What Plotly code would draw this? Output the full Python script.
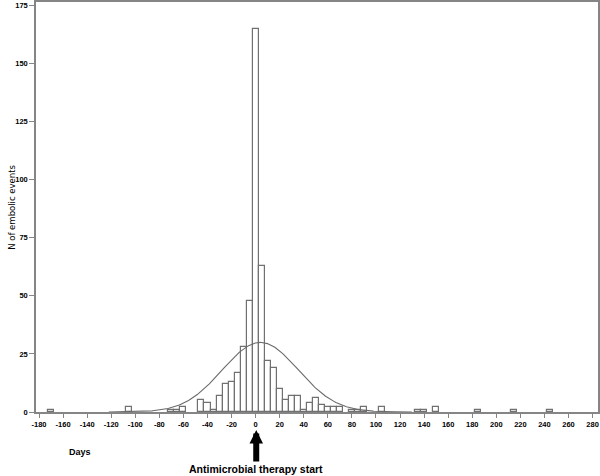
import numpy as np
import plotly.graph_objects as go

# Histogram bins (bin centre in days, width 5 days) and counts of embolic events
bin_centers = [-170, -105, -70, -65, -60, -45, -40, -35, -30, -25, -20, -15, -10, -5,
               0, 5, 10, 15, 20, 25, 30, 35, 40, 45, 50, 55, 60, 65, 70, 80, 85, 90,
               105, 135, 140, 150, 185, 215, 245]
counts = [1, 2, 1, 1, 2, 5, 4, 1, 7, 12, 13, 17, 28, 48,
          165, 63, 22, 19, 10, 5, 7, 7, 1, 4, 6, 3, 2, 2, 2, 1, 1, 2,
          2, 1, 1, 2, 1, 1, 1]
bin_width = 5

x_ticks = list(range(-180, 281, 20))
y_ticks = [0, 25, 50, 75, 100, 125, 150, 175]

# Fitted normal curve from the data's mean and SD
values = np.repeat(bin_centers, counts)
n = len(values)
mu = values.mean()
sd = values.std()
cx = np.linspace(mu - 4 * sd, mu + 4 * sd, 400)
cy = n * bin_width * np.exp(-0.5 * ((cx - mu) / sd) ** 2) / (sd * np.sqrt(2 * np.pi))

fig = go.Figure()
fig.add_trace(go.Bar(
    x=bin_centers, y=counts, width=bin_width,
    marker=dict(color="white", line=dict(color="#707070", width=1.2)),
    showlegend=False, hoverinfo="x+y",
))
fig.add_trace(go.Scatter(
    x=cx, y=cy, mode="lines",
    line=dict(color="#6a6a6a", width=1.1),
    showlegend=False, hoverinfo="skip",
))

tick_font = dict(family="Liberation Sans", size=7.5, color="black", weight="bold")

fig.update_layout(
    width=600, height=476,
    margin=dict(l=36, r=2, t=2, b=64),
    plot_bgcolor="white", paper_bgcolor="white",
    bargap=0,
    xaxis=dict(
        range=[-182.5, 284.5], tickmode="array", tickvals=x_ticks,
        ticktext=[str(v) for v in x_ticks],
        showgrid=False, zeroline=False, automargin=False,
        showline=True, linecolor="#858585", linewidth=1.5, mirror=True,
        ticks="outside", ticklen=4, tickcolor="#858585", tickwidth=1,
        tickfont=tick_font,
    ),
    yaxis=dict(
        range=[0, 176.5], tickmode="array", tickvals=y_ticks,
        ticktext=[str(v) for v in y_ticks],
        showgrid=False, zeroline=False, automargin=False,
        showline=True, linecolor="#858585", linewidth=1.5, mirror=True,
        ticks="outside", ticklen=5, tickcolor="#858585", tickwidth=1,
        tickfont=tick_font,
    ),
    annotations=[
        dict(text="N of embolic events", textangle=-90, xref="paper", yref="paper",
             x=-0.043, y=0.5, xanchor="center", yanchor="middle", showarrow=False,
             font=dict(family="DejaVu Sans", size=8.5, color="black")),
        dict(text="<b>Days</b>", xref="paper", yref="paper", x=0.079, y=-0.098,
             xanchor="center", yanchor="middle", showarrow=False,
             font=dict(family="Liberation Sans", size=9, color="black")),
        dict(text="<b>Antimicrobial therapy start</b>", xref="x", yref="paper",
             x=0.5, y=-0.044, ax=0, ay=39, axref="pixel", ayref="pixel",
             showarrow=True, arrowhead=2, arrowsize=0.45, arrowwidth=6,
             arrowcolor="black", standoff=0, startstandoff=0,
             font=dict(family="Liberation Sans", size=10.5, color="black")),
    ],
)

fig.write_html(
    "out.html",
    config={"displayModeBar": False},
    post_script="document.body.style.margin='0';document.body.style.overflow='hidden';",
)
